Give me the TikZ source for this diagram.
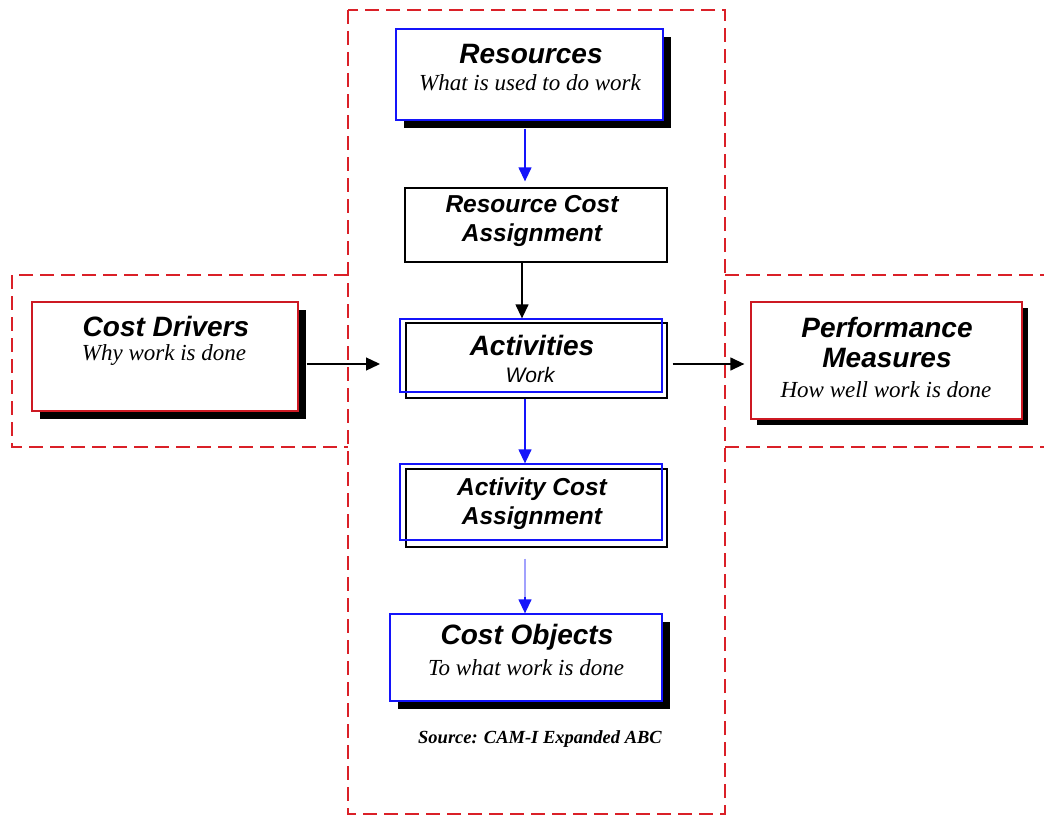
\documentclass[tikz,border=0pt]{standalone}
\usepackage{fontspec}
\setmainfont{Liberation Serif}
\setsansfont{Liberation Sans}
\usetikzlibrary{arrows.meta,shadows}
\definecolor{dred}{RGB}{218,32,40}
\definecolor{bred}{RGB}{205,25,35}
\definecolor{bblue}{RGB}{20,20,250}
\begin{document}
\begin{tikzpicture}[x=1pt,y=-1pt,
  zone/.style={dred,line width=1.5pt,dash pattern=on 14pt off 7pt},
  box/.style={draw,line width=1.3pt,fill=white,minimum width=#1,inner sep=0pt},
  shad/.style={drop shadow={shadow xshift=8pt,shadow yshift=-8pt,fill=black,opacity=1}},
  arr/.style={line width=1.3pt,-{Triangle[length=14pt,width=13pt]}},
  txt/.style={inner sep=0pt,align=center},
  ttl/.style={txt,font=\fontsize{28}{30}\selectfont\sffamily\bfseries\itshape},
  ttl2/.style={txt,font=\fontsize{24.5}{29}\selectfont\sffamily\bfseries\itshape},
  sub/.style={txt,font=\fontsize{23}{25}\selectfont\rmfamily\itshape}]
\useasboundingbox (0,0) rectangle (1044,816);
% dashed zones
\draw[zone] (348,10) rectangle (725,814);
\draw[zone] (348,275) -- (12,275) -- (12,447) -- (348,447);
\draw[zone] (725,275) -- (1044,275);
\draw[zone] (725,447) -- (1044,447);
\coordinate (ax) at (525,0);
\coordinate (bx) at (522,0);
\coordinate (my) at (0,364);
% Resources
\node[box=267pt,minimum height=91pt,draw=bblue,shad] (res) at (529.5,74.5) {};
\node[ttl] (resT) at (531,54) {Resources};
\node[sub] (resS) at (530,83) {What is used to do work};
% Resource Cost Assignment
\node[box=262pt,minimum height=74pt,draw=black] (rca) at (536,225) {};
\node[ttl2] (rcaT) at (532,221) {Resource Cost\\Assignment};
% Activities
\node[box=261pt,minimum height=75pt,draw=black] (act) at (536.5,360.5) {};
\draw[bblue,line width=1.3pt] (400,319) rectangle (662,392);
\node[ttl] (actT) at (532,345) {Activities};
\node[txt,font=\fontsize{21}{23}\selectfont\sffamily\itshape] (actS) at (530,375) {Work};
% Activity Cost Assignment
\node[box=261pt,minimum height=78pt,draw=black] (aca) at (536.5,508) {};
\draw[bblue,line width=1.3pt] (400,464) rectangle (662,540);
\node[ttl2] (acaT) at (532,504) {Activity Cost\\Assignment};
% Cost Objects
\node[box=272pt,minimum height=87pt,draw=bblue,shad] (co) at (526,657.5) {};
\node[ttl] (coT) at (527,637) {Cost Objects};
\node[sub] (coS) at (526,668) {To what work is done};
\node[txt,font=\fontsize{18.5}{20}\selectfont\rmfamily\bfseries\itshape] (src) at (540,739) {Source: CAM-I Expanded ABC};
% Cost Drivers
\node[box=266pt,minimum height=109pt,draw=bred,shad] (cd) at (165,356.5) {};
\node[ttl] (cdT) at (166,326) {Cost Drivers};
\node[sub] (cdS) at (164,355) {Why work is done};
% Performance Measures
\node[box=271pt,minimum height=117pt,draw=bred,drop shadow={shadow xshift=6pt,shadow yshift=-6pt,fill=black,opacity=1}] (pm) at (886.5,360.5) {};
\node[ttl] (pmT) at (887,342) {Performance\\Measures};
\node[sub] (pmS) at (886,390) {How well work is done};
% connectors
\draw[arr,bblue] ([yshift=-8pt]res.south -| ax) -- ([yshift=6pt]rca.north -| ax);
\draw[arr,black] (rca.south -| bx) -- ([yshift=4pt]act.north -| bx);
\draw[arr,bblue] (act.south -| ax) -- ([yshift=5pt]aca.north -| ax);
\draw[line width=1.3pt,bblue!40] ([yshift=-11pt]aca.south -| ax) -- ([yshift=5pt]co.north -| ax);
\draw[arr,bblue,shorten <=38pt] ([yshift=-11pt]aca.south -| ax) -- (co.north -| ax);
\draw[arr,black] ([xshift=8pt]cd.east |- my) -- (380,364);
\draw[arr,black] ([xshift=5pt]act.east |- my) -- ([xshift=-6pt]pm.west |- my);
\end{tikzpicture}
\end{document}
